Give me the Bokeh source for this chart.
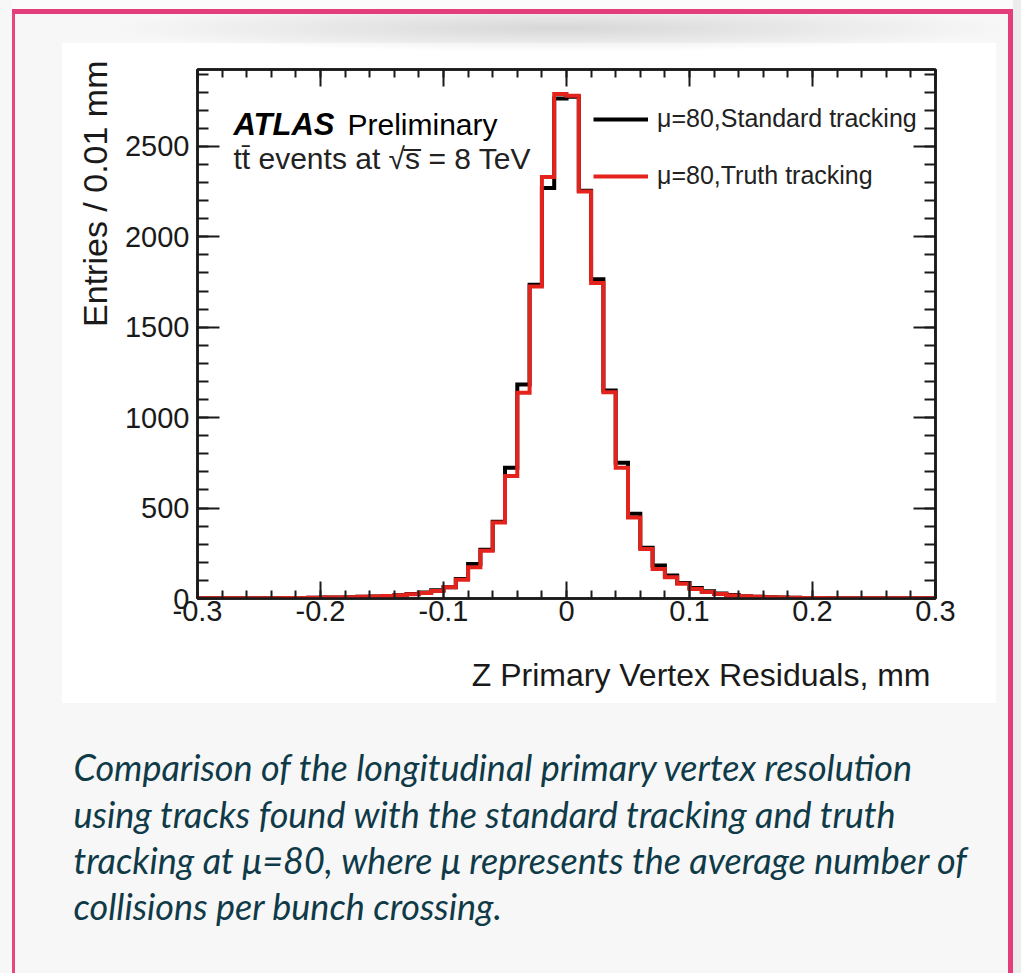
from bokeh.plotting import figure
from bokeh.models import (FixedTicker, LinearAxis, Range1d, Label, Legend, LegendItem, Title)
from bokeh.embed import file_html
from bokeh.resources import INLINE

# ---- histogram data: Z primary vertex residuals, 0.01 mm bins from -0.30 to 0.30 ----
bin_low = -0.30
bin_width = 0.01
standard_counts = [
    1, 1, 1, 1, 2, 2, 2, 3, 3, 4,
    5, 6, 7, 9, 11, 14, 18, 25, 33, 45,
    62, 108, 191, 270, 425, 723, 1183, 1735, 2270, 2765,
    2775, 2255, 1765, 1150, 751, 468, 280, 182, 127, 86,
    58, 40, 28, 19, 13, 9, 7, 5, 4, 3,
    3, 2, 2, 2, 1, 1, 1, 1, 1, 1,
]
truth_counts = [
    1, 1, 1, 1, 2, 2, 2, 3, 3, 4,
    5, 6, 7, 9, 11, 14, 18, 23, 30, 42,
    62, 103, 173, 264, 420, 678, 1137, 1725, 2330, 2790,
    2780, 2250, 1745, 1140, 723, 448, 274, 163, 117, 81,
    53, 36, 25, 17, 12, 9, 7, 5, 4, 3,
    3, 2, 2, 2, 1, 1, 1, 1, 1, 1,
]
series_names = ["\u03bc=80,Standard tracking", "\u03bc=80,Truth tracking"]

x_ticks = [-0.3, -0.2, -0.1, 0.0, 0.1, 0.2, 0.3]
x_tick_labels = ["-0.3", "-0.2", "-0.1", "0", "0.1", "0.2", "0.3"]
x_minor_step = 0.02
y_ticks = [0, 500, 1000, 1500, 2000, 2500]
y_minor_step = 100
y_max = 2925

x_title = "Z Primary Vertex Residuals, mm"
y_title = "Entries / 0.01 mm"
caption_lines = [
    "Comparison of the longitudinal primary vertex resolution",
    "using tracks found with the standard tracking and truth",
    "tracking at \u03bc=80, where \u03bc represents the average number of",
    "collisions per bunch crossing.",
]

# ---- page geometry (canvas pixels, y downward) ----
W, H = 1021, 973
FL, FR, FT, FB = 197, 935, 69, 598

def sx(X):
    return X - FL

def sy(Y):
    return FB - Y

edges = [round(bin_low + bin_width * i, 2) for i in range(len(truth_counts) + 1)]
x_minor = [round(-0.3 + x_minor_step * i, 2) for i in range(31)]
y_minor = [y_minor_step * i for i in range(30)]

p = figure(width=W, height=H, x_range=Range1d(-0.3, 0.3), y_range=Range1d(0, y_max),
           output_backend="svg", toolbar_location=None,
           min_border_left=FL, min_border_right=W - FR,
           min_border_top=FT, min_border_bottom=H - FB)
p.border_fill_alpha = 0
p.background_fill_color = "white"
p.xgrid.visible = False
p.ygrid.visible = False
p.outline_line_color = "#1a1a1a"
p.outline_line_width = 2.5

# page card behind the canvas: white panel, soft top shadow, pink hand-drawn frame
p.styles = {
    "background": ("radial-gradient(ellipse 450px 24px at 560px 28px, rgba(0,0,0,0.13), "
                   "rgba(0,0,0,0) 100%) no-repeat, "
                   "linear-gradient(#ffffff, #ffffff) 62px 43px / 934px 660px no-repeat, "
                   "#f7f7f7"),
    "box-shadow": ("inset -8px 0 0 0 #ececec, inset 12px 0 0 0 #f7f7f7, "
                   "inset 0 9px 0 0 #fbfbfb, inset 0 14px 0 0 #e43d7b, "
                   "inset -13px 0 0 0 #e43d7b, inset 15px 0 0 0 #e8467f"),
}

bottom_axis = p.below[0]
left_axis = p.left[0]
xt = FixedTicker(ticks=x_ticks, minor_ticks=x_minor)
yt = FixedTicker(ticks=y_ticks, minor_ticks=y_minor)
bottom_axis.ticker = xt
left_axis.ticker = yt
bottom_axis.major_label_overrides = dict(zip(x_ticks, x_tick_labels))

top_axis = LinearAxis(ticker=xt)
right_axis = LinearAxis(ticker=yt)
p.add_layout(top_axis, "above")
p.add_layout(right_axis, "right")

# ticks on all four sides, pointing inward
for ax in [bottom_axis, top_axis]:
    ax.major_tick_in = 17
    ax.minor_tick_in = 8
for ax in [left_axis, right_axis]:
    ax.major_tick_in = 22
    ax.minor_tick_in = 11
for ax in [bottom_axis, left_axis, top_axis, right_axis]:
    ax.major_tick_out = 0
    ax.minor_tick_out = 0
    ax.axis_line_color = "#1a1a1a"
    ax.axis_line_width = 2.5
    ax.major_tick_line_color = "#1a1a1a"
    ax.major_tick_line_width = 2
    ax.minor_tick_line_color = "#1a1a1a"
    ax.minor_tick_line_width = 2
    ax.major_label_text_font = "Liberation Sans"
    ax.major_label_text_font_size = "29px"
    ax.major_label_text_color = "#1a1a1a"
for ax in [top_axis, right_axis]:
    ax.major_label_text_color = None

bottom_axis.major_label_standoff = 2
left_axis.major_label_standoff = 8

# axis titles, flush with the far ends of the axes
p.add_layout(Title(text=x_title, align="right", offset=5, standoff=63,
                   text_font="Liberation Sans", text_font_style="normal",
                   text_font_size="32px", text_color="#1a1a1a"), "below")
p.add_layout(Title(text=y_title, align="right", offset=-9, standoff=15,
                   text_font="Liberation Sans", text_font_style="normal",
                   text_font_size="34px", text_color="#1a1a1a"), "left")

# caption under the chart
p.add_layout(Title(text="\n".join(caption_lines), align="left", offset=73 - FL,
                   standoff=38, text_font="Lato", text_font_style="italic",
                   text_font_size="36px", text_line_height=1.055,
                   text_color="#0f3a48"), "below")

# histograms drawn as step outlines
r_std = p.step(edges, standard_counts + [standard_counts[-1]], mode="after",
               line_color="black", line_width=4, line_join="miter")
r_truth = p.step(edges, truth_counts + [truth_counts[-1]], mode="after",
                 line_color="#e5231d", line_width=4, line_join="miter")

legend = Legend(items=[LegendItem(label=series_names[0], renderers=[r_std]),
                       LegendItem(label=series_names[1], renderers=[r_truth])],
                location=(sx(593), sy(190)), orientation="vertical",
                glyph_width=55, glyph_height=20, label_height=20, spacing=28,
                padding=0, margin=0, label_standoff=9,
                border_line_color=None, background_fill_alpha=0,
                label_text_font="Liberation Sans", label_text_font_size="25px",
                label_text_color="#222222")
p.add_layout(legend)

# experiment tag
def tag(X, Y, text, size, color="#111111", style="normal"):
    p.add_layout(Label(x=sx(X), y=sy(Y), x_units="screen", y_units="screen", text=text,
                       text_font="Liberation Sans", text_font_size=size,
                       text_font_style=style, text_color=color,
                       text_baseline="alphabetic", text_align="left"))

tag(233, 124, "ATLAS", "31px", "black", "bold italic")
tag(347, 124, "Preliminary", "30px", "black")
tag(233, 158, "tt\u0304 events at \u221as\u0305 = 8 TeV", "30px", "#222222")

open("out.html", "w").write(file_html(p, INLINE))
